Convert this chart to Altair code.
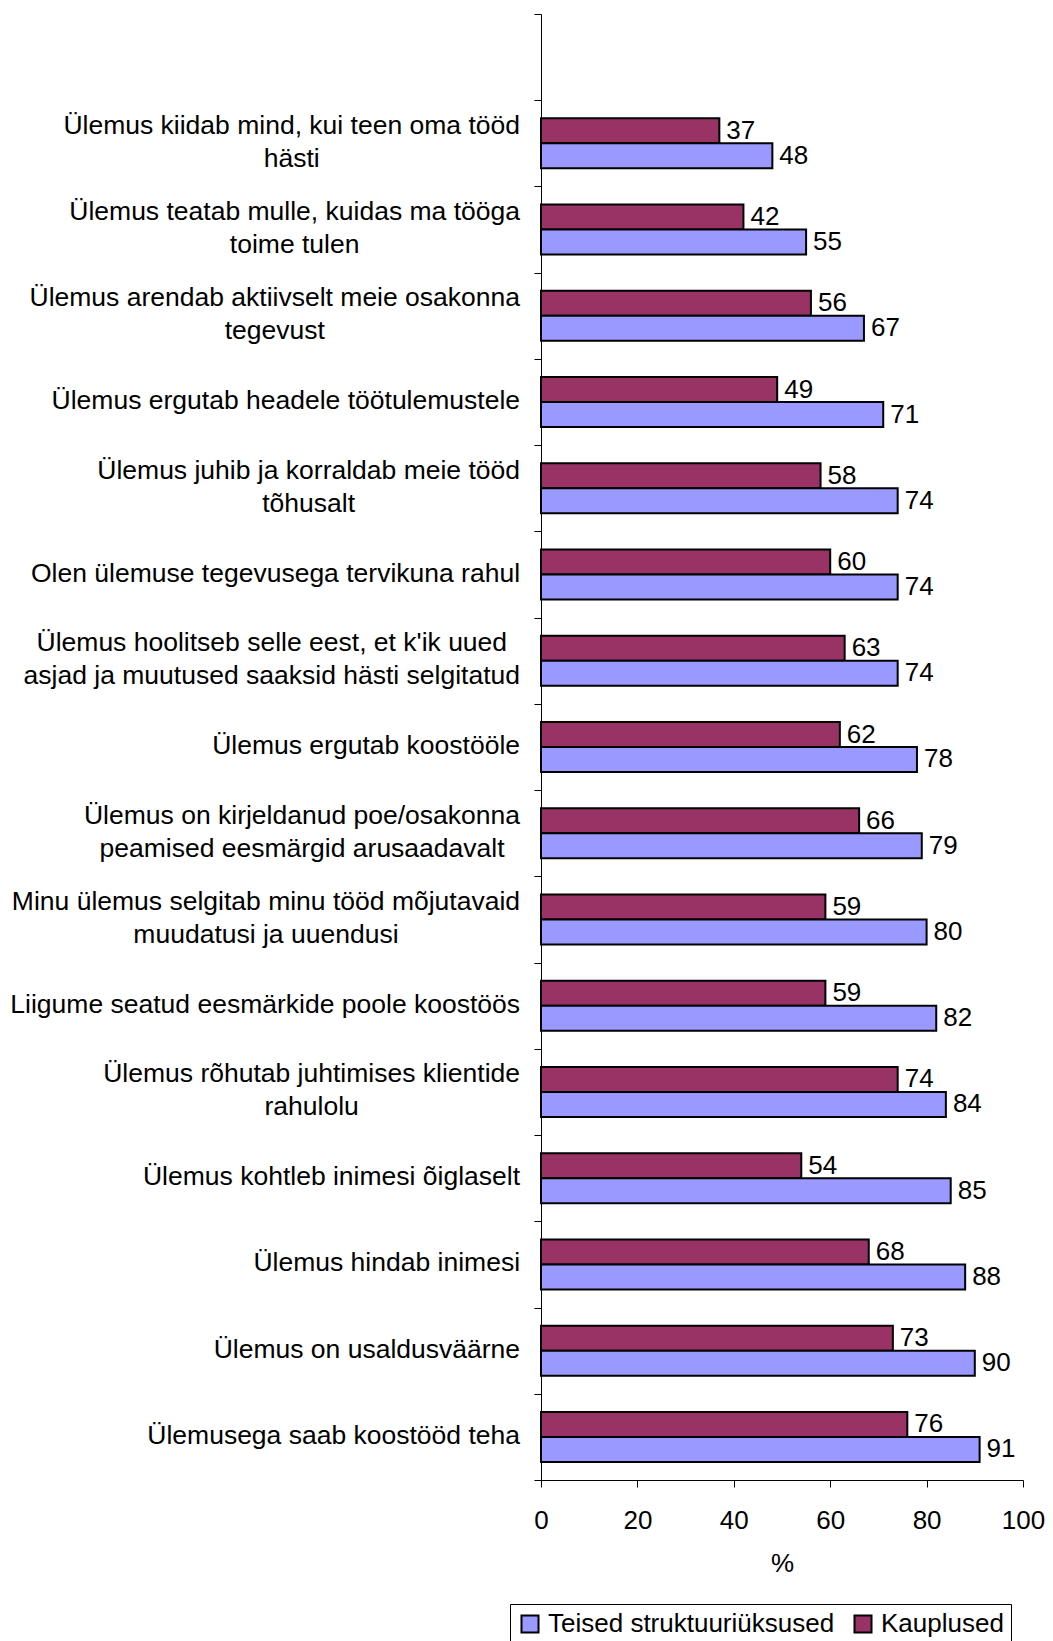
import altair as alt
import pandas as pd

# ---- data ----
categories = [
    "Ülemus kiidab mind, kui teen oma tööd|hästi",
    "Ülemus teatab mulle, kuidas ma tööga|toime tulen",
    "Ülemus arendab aktiivselt meie osakonna|tegevust",
    "Ülemus ergutab headele töötulemustele",
    "Ülemus juhib ja korraldab meie tööd|tõhusalt",
    "Olen ülemuse tegevusega tervikuna rahul",
    "Ülemus hoolitseb selle eest, et k'ik uued|asjad ja muutused saaksid hästi selgitatud",
    "Ülemus ergutab koostööle",
    "Ülemus on kirjeldanud poe/osakonna|peamised eesmärgid arusaadavalt",
    "Minu ülemus selgitab minu tööd mõjutavaid|muudatusi ja uuendusi",
    "Liigume seatud eesmärkide poole koostöös",
    "Ülemus rõhutab juhtimises klientide|rahulolu",
    "Ülemus kohtleb inimesi õiglaselt",
    "Ülemus hindab inimesi",
    "Ülemus on usaldusväärne",
    "Ülemusega saab koostööd teha",
]
kauplused = [37, 42, 56, 49, 58, 60, 63, 62, 66, 59, 59, 74, 54, 68, 73, 76]
teised = [48, 55, 67, 71, 74, 74, 74, 78, 79, 80, 82, 84, 85, 88, 90, 91]
series_names = ["Teised struktuuriüksused", "Kauplused"]
series_colors = ["#9999FF", "#993366"]

FONT = "Liberation Sans"
CAT_SIZE = 26.5
TXT_SIZE = 26
LINE_H = 33
LABEL_GAP = 21

rows = []
for c, k, t in zip(categories, kauplused, teised):
    rows.append({"cat": c, "series": "Kauplused", "value": k})
    rows.append({"cat": c, "series": "Teised struktuuriüksused", "value": t})
df = pd.DataFrame(rows)

y_domain = [" "] + categories

# Arial / Liberation Sans advance widths (per 1000 em) to centre multi-line labels
W = {" ": 278, "'": 191, ",": 278, "/": 278, "a": 556, "b": 556, "c": 500, "d": 556,
     "e": 556, "f": 278, "g": 556, "h": 556, "i": 222, "j": 222, "k": 500, "l": 222,
     "m": 833, "n": 556, "o": 556, "p": 556, "r": 333, "s": 500, "t": 278, "u": 556,
     "v": 500, "ä": 556, "ö": 556, "õ": 556, "ü": 556, "L": 556, "M": 833, "O": 778,
     "Ü": 722}


def text_width(s):
    return sum(W.get(ch, 556) for ch in s) * CAT_SIZE / 1000.0


lab_rows = []
for c in categories:
    lines = c.split("|")
    w = max(text_width(line) for line in lines)
    lab_rows.append({"cat": c, "lx": -LABEL_GAP - w / 2.0, "n": len(lines)})
df_lab = pd.DataFrame(lab_rows)

y_enc = alt.Y(
    "cat:N",
    sort=y_domain,
    scale=alt.Scale(domain=y_domain, paddingInner=0, paddingOuter=0),
    axis=alt.Axis(labels=False, title=None, tickBand="extent", tickSize=7,
                  domainColor="black", tickColor="black", domainWidth=1, tickWidth=1),
)
yoff_enc = alt.YOffset(
    "series:N",
    scale=alt.Scale(domain=["Kauplused", "Teised struktuuriüksused"],
                    paddingInner=0, paddingOuter=0.725),
)
x_enc = alt.X(
    "value:Q",
    scale=alt.Scale(domain=[0, 100], nice=False),
    axis=alt.Axis(values=[0, 20, 40, 60, 80, 100], title="%", tickSize=7,
                  labelFontSize=TXT_SIZE, labelFont=FONT, labelColor="black",
                  labelPadding=20, labelFlush=False, labelOverlap=False,
                  titleFontSize=TXT_SIZE, titleFont=FONT,
                  titleFontWeight="normal", titleColor="black", titlePadding=17,
                  domainColor="black", tickColor="black", grid=False),
)

bars = alt.Chart(df).mark_bar(stroke="black", strokeWidth=2).encode(
    x=x_enc,
    y=y_enc,
    yOffset=yoff_enc,
    color=alt.Color(
        "series:N",
        scale=alt.Scale(domain=series_names, range=series_colors),
        legend=alt.Legend(
            title=None, orient="none", legendX=-31, legendY=1590,
            direction="horizontal", strokeColor="black", fillColor="white",
            padding=7, symbolType="square", symbolSize=290,
            symbolStrokeColor="black", symbolStrokeWidth=2,
            labelFontSize=TXT_SIZE, labelFont=FONT, labelColor="black",
            labelLimit=600, labelOffset=5, columnPadding=15, cornerRadius=0,
        ),
    ),
)

values = alt.Chart(df).mark_text(
    align="left", baseline="middle", dx=7, fontSize=TXT_SIZE, font=FONT, color="black"
).encode(
    x=alt.X("value:Q"),
    y=alt.Y("cat:N", sort=y_domain),
    yOffset=alt.YOffset("series:N"),
    text=alt.Text("value:Q"),
)


def label_layer(n_lines):
    return alt.Chart(df_lab).transform_filter(
        alt.datum.n == n_lines
    ).transform_calculate(
        lines="split(datum.cat, '|')"
    ).mark_text(
        align="center", baseline="middle", fontSize=CAT_SIZE, font=FONT,
        color="black", lineHeight=LINE_H, dy=-(n_lines - 1) * LINE_H / 2.0 - 1
    ).encode(
        x=alt.X("lx:Q", scale=None, axis=None),
        y=alt.Y("cat:N", sort=y_domain),
        text=alt.Text("lines:N"),
    )


chart = alt.layer(bars, values, label_layer(1), label_layer(2)).properties(
    width=482, height=1466,
    padding={"left": 2, "top": 5, "right": 0, "bottom": 5},
    background="white",
).configure_view(stroke=None)

chart.save("out.html", embed_options={"renderer": "svg", "actions": False})
